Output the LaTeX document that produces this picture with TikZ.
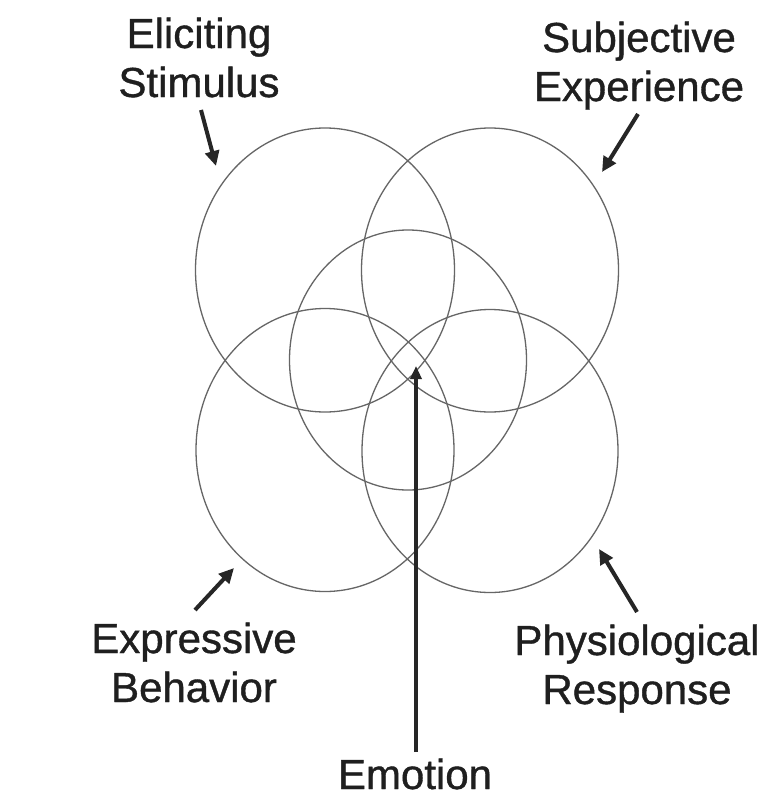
\documentclass[tikz,border=0pt]{standalone}
\usepackage{fontspec}
\setmainfont{Liberation Sans}
\newfontfamily\lblfont{Liberation Sans}[FakeBold=0.9]
\usetikzlibrary{arrows.meta,shapes.geometric}
\begin{document}
\begin{tikzpicture}[x=1pt,y=-1pt,
  ring/.style={draw=black!60, line width=1.3pt, ellipse, inner sep=0pt, outer sep=0pt},
  lbl/.style={font=\lblfont\fontsize{42}{49}\selectfont, text=black!88, align=center, inner sep=0pt},
  pointer/.style={draw=black!85, line width=4pt, -{Triangle[length=15pt,width=14pt]}},
  mainpointer/.style={draw=black!85, line width=4.5pt, -{Triangle[length=13pt,width=11pt]}}]
\useasboundingbox[fill=white] (0,0) rectangle (763,798);
% circles
\node[ring, minimum width=259pt, minimum height=284pt] (es) at (325,270) {};
\node[ring, minimum width=257pt, minimum height=284pt] (se) at (490,270) {};
\node[ring, minimum width=258pt, minimum height=283pt] (eb) at (325,450) {};
\node[ring, minimum width=256pt, minimum height=283pt] (pr) at (490,451) {};
\node[ring, minimum width=237pt, minimum height=260pt] (em) at (408,360) {};
% labels (base anchor = baseline of last line)
\node[lbl, anchor=base] (lES) at (199,97) {Eliciting\\Stimulus};
\node[lbl, anchor=base] (lSE) at (639,101) {Subjective\\Experience};
\node[lbl, anchor=base] (lEB) at (194,702) {Expressive\\Behavior};
\node[lbl, anchor=base] (lPR) at (637,704) {Physiological\\Response};
\node[lbl, anchor=base] (lEM) at (415,789) {Emotion};
% arrow ends
\coordinate (aES1) at (201,110); \coordinate (aES2) at (216,166);
\coordinate (aSE1) at (638,114); \coordinate (aSE2) at (602,172);
\coordinate (aEB1) at (195,610); \coordinate (aEB2) at (234,568);
\coordinate (aPR1) at (637,612); \coordinate (aPR2) at (599,549);
\coordinate (aEM1) at (416,752); \coordinate (aEM2) at (416,366);
\draw[pointer] (aES1) -- (aES2);
\draw[pointer] (aSE1) -- (aSE2);
\draw[pointer] (aEB1) -- (aEB2);
\draw[pointer] (aPR1) -- (aPR2);
\draw[mainpointer] (aEM1) -- (aEM2);
\end{tikzpicture}
\end{document}
